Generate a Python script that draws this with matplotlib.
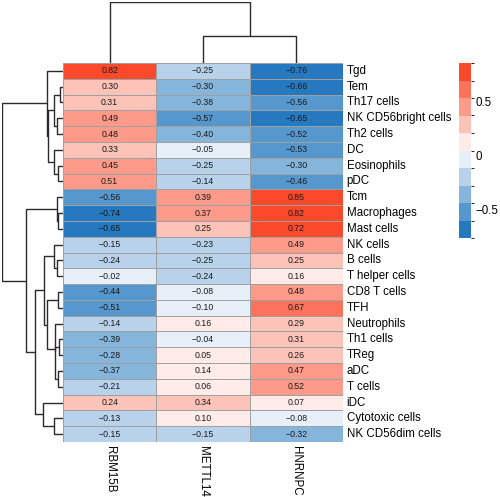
import numpy as np
import matplotlib
matplotlib.use("Agg")
import matplotlib.pyplot as plt
from matplotlib.colors import ListedColormap, BoundaryNorm, to_rgb

plt.rcParams["font.family"] = ["Liberation Sans", "DejaVu Sans"]

genes = ["RBM15B", "METTL14", "HNRNPC"]
cells = [
    "Tgd", "Tem", "Th17 cells", "NK CD56bright cells", "Th2 cells", "DC",
    "Eosinophils", "pDC", "Tcm", "Macrophages", "Mast cells", "NK cells",
    "B cells", "T helper cells", "CD8 T cells", "TFH", "Neutrophils",
    "Th1 cells", "TReg", "aDC", "T cells", "iDC", "Cytotoxic cells",
    "NK CD56dim cells",
]
rbm15b = [0.82, 0.30, 0.31, 0.49, 0.48, 0.33, 0.45, 0.51, -0.56, -0.74, -0.65,
          -0.15, -0.24, -0.02, -0.44, -0.51, -0.14, -0.39, -0.28, -0.37, -0.21,
          0.24, -0.13, -0.15]
mettl14 = [-0.25, -0.30, -0.38, -0.57, -0.40, -0.05, -0.25, -0.14, 0.39, 0.37,
           0.25, -0.23, -0.25, -0.24, -0.08, -0.10, 0.16, -0.04, 0.05, 0.14,
           0.06, 0.34, 0.10, -0.15]
hnrnpc = [-0.76, -0.66, -0.56, -0.65, -0.52, -0.53, -0.30, -0.46, 0.85, 0.82,
          0.72, 0.49, 0.25, 0.16, 0.48, 0.67, 0.29, 0.31, 0.26, 0.47, 0.52,
          0.07, -0.08, -0.32]
cbar_ticks = [-0.5, 0, 0.5]

data = np.column_stack([rbm15b, mettl14, hnrnpc])
n_rows, n_cols = data.shape


def complete_linkage(X):
    """Agglomerative clustering, euclidean distance, complete linkage."""
    d = np.sqrt(((X[:, None, :] - X[None, :, :]) ** 2).sum(-1))
    clusters = {i: [i] for i in range(len(X))}
    merges = []
    next_id = len(X)
    while len(clusters) > 1:
        keys = list(clusters)
        best = None
        for a in range(len(keys)):
            for b in range(a + 1, len(keys)):
                ia, ib = clusters[keys[a]], clusters[keys[b]]
                h = d[np.ix_(ia, ib)].max()
                if best is None or h < best[2]:
                    best = (keys[a], keys[b], h)
        ka, kb, h = best
        clusters[next_id] = clusters.pop(ka) + clusters.pop(kb)
        merges.append((ka, kb, h, next_id))
        next_id += 1
    return merges


def draw_dendro(ax, merges, n, horizontal):
    pos = {i: i + 0.5 for i in range(n)}
    hgt = {i: 0.0 for i in range(n)}
    for a, b, h, new in merges:
        xs = [pos[a], pos[a], pos[b], pos[b]]
        ys = [hgt[a], h, h, hgt[b]]
        if horizontal:
            ax.plot(ys, xs, color="#2b2b2b", lw=1.0, solid_capstyle="butt")
        else:
            ax.plot(xs, ys, color="#2b2b2b", lw=1.0, solid_capstyle="butt")
        pos[new] = (pos[a] + pos[b]) / 2
        hgt[new] = h
    return merges[-1][2]


# colour palette: 10 steps blue -> white -> red, breaks from data min to max
blue, red = np.array(to_rgb("#2679bf")), np.array(to_rgb("#fb4a2b"))
white = np.ones(3)
t = np.linspace(0, 1, 10)
pal = [blue + (white - blue) * (v / 0.5) if v <= 0.5 else white + (red - white) * ((v - 0.5) / 0.5) for v in t]
cmap = ListedColormap(pal)
breaks = np.linspace(data.min(), data.max(), 11)
norm = BoundaryNorm(breaks, cmap.N)

fig = plt.figure(figsize=(5.0, 4.97), dpi=100)
W, H = 500, 497


def px_axes(x0, y0, x1, y1):
    return fig.add_axes([x0 / W, 1 - y1 / H, (x1 - x0) / W, (y1 - y0) / H])


hx0, hy0, hx1, hy1 = 63, 63, 343, 442
ax = px_axes(hx0, hy0, hx1, hy1)
mesh = ax.pcolormesh(np.arange(n_cols + 1), np.arange(n_rows + 1), data,
                     cmap=cmap, norm=norm, edgecolors="#a0a0a0", linewidth=0.6)
ax.set_xlim(0, n_cols)
ax.set_ylim(n_rows, 0)
for s in ax.spines.values():
    s.set_visible(False)
ax.set_xticks([])
ax.set_yticks([])
for i in range(n_rows):
    for j in range(n_cols):
        v = data[i, j]
        txt = f"{abs(v):.2f}"
        txt = ("\u2212" + txt) if v < 0 else txt
        ax.text(j + 0.5, i + 0.5, txt, ha="center", va="center",
                fontsize=6.3, color="#1a1a1a")
    ax.text(n_cols + 0.04, i + 0.5, cells[i], ha="left", va="center", fontsize=8.3)
for j, g in enumerate(genes):
    ax.text(j + 0.5, n_rows + 0.25, g, ha="center", va="top", rotation=270,
            fontsize=8.3)

# row dendrogram
axr = px_axes(2, hy0, hx0, hy1)
top = draw_dendro(axr, complete_linkage(data), n_rows, horizontal=True)
axr.set_xlim(top, 0)
axr.set_ylim(n_rows, 0)
axr.axis("off")

# column dendrogram
axc = px_axes(hx0, 2, hx1, hy0)
top = draw_dendro(axc, complete_linkage(data.T), n_cols, horizontal=False)
axc.set_ylim(0, top)
axc.set_xlim(0, n_cols)
axc.axis("off")

# colour legend
cax = px_axes(459, 63, 471, 238)
cb = fig.colorbar(mesh, cax=cax, boundaries=breaks, ticks=cbar_ticks)
cb.outline.set_visible(False)
cb.ax.tick_params(length=0, labelsize=8.3, pad=3)
cb.ax.set_yticklabels(["\u22120.5", "0", "0.5"])

fig.savefig("out.png", dpi=100)
